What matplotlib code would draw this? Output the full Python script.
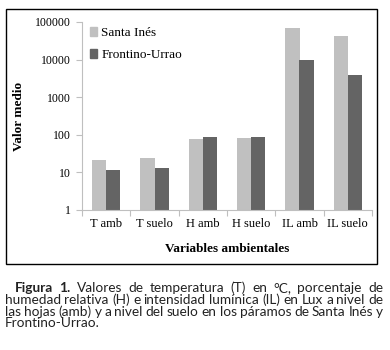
import matplotlib
matplotlib.use("Agg")
import matplotlib.pyplot as plt
import numpy as np
from matplotlib.patches import Patch, Rectangle

categories = ["T amb", "T suelo", "H amb", "H suelo", "IL amb", "IL suelo"]
santa_ines = [21, 23.5, 76, 81, 69000, 42500]
frontino_urrao = [11.8, 12.8, 86, 90, 9700, 4000]
series_names = ["Santa Inés", "Frontino-Urrao"]
y_ticks = [1, 10, 100, 1000, 10000, 100000]
caption_lines = [
    "Figura 1. Valores de temperatura (T) en °C, porcentaje de",
    "humedad relativa (H) e intensidad lumínica (IL) en Lux a nivel de",
    "las hojas (amb) y a nivel del suelo en los páramos de Santa Inés y",
    "Frontino-Urrao.",
]
n_bold = 2  # "Figura 1." in bold

light = "#c0c0c0"
dark = "#646464"
serif = "Liberation Serif"

W, H = 390, 350
fig = plt.figure(figsize=(W / 100, H / 100), dpi=100)
fig.patch.set_facecolor("white")

fig.add_artist(Rectangle((6 / W, 1 - 264 / H), (377 - 6) / W, (264 - 9) / H,
                         transform=fig.transFigure, fill=False, lw=1.0, ec="black"))

ax = fig.add_axes([82 / W, 1 - 210 / H, (372 - 82) / W, (210 - 22) / H])
x = np.arange(len(categories))
bw = 0.29
ax.bar(x - bw / 2, santa_ines, bw, color=light, label=series_names[0])
ax.bar(x + bw / 2, frontino_urrao, bw, color=dark, label=series_names[1])
ax.set_yscale("log")
ax.set_ylim(1, 100000)
ax.set_xlim(-0.5, len(categories) - 0.5)
ax.set_yticks(y_ticks)
ax.set_yticklabels([str(v) for v in y_ticks], fontfamily=serif, fontsize=8.5)
ax.yaxis.set_minor_locator(matplotlib.ticker.NullLocator())
ax.set_xticks(x)
ax.set_xticklabels(categories, fontfamily=serif, fontsize=9)
ax.set_xticks(np.arange(-0.5, len(categories)), minor=True)
ax.tick_params(axis="x", which="major", length=0, pad=6)
ax.tick_params(axis="x", which="minor", length=4, color="#bfbfbf", width=0.8)
ax.tick_params(axis="y", which="major", length=4, color="#bfbfbf", width=0.8, pad=4)
for s in ["top", "right"]:
    ax.spines[s].set_visible(False)
for s in ["left", "bottom"]:
    ax.spines[s].set_color("#bfbfbf")
    ax.spines[s].set_linewidth(0.8)

ax.set_xlabel("Variables ambientales", fontfamily=serif, fontsize=9.5,
              fontweight="bold", labelpad=9)
ax.set_ylabel("Valor medio", fontfamily=serif, fontsize=9.5, fontweight="bold",
              labelpad=7)

handles = [Patch(color=light), Patch(color=dark)]
ax.legend(handles, series_names, loc="upper left", bbox_to_anchor=(-0.015, 1.035),
          frameon=False, handlelength=0.6, handleheight=0.6, handletextpad=0.3,
          labelspacing=0.75, prop={"family": serif, "size": 9.5})

# caption, justified
cap_font = dict(family="Lato", size=9.8, color="#222222")
fig.canvas.draw()
renderer = fig.canvas.get_renderer()

def width_px(s, bold=False):
    t = fig.text(0, 0, s, fontweight="bold" if bold else "normal", **cap_font)
    w = t.get_window_extent(renderer).width
    t.remove()
    return w

space = width_px("a b") - width_px("ab")
left_x, right_x = 5, 383
line_ys = [288, 300, 311.5, 323]
for i, line in enumerate(caption_lines):
    words = line.split()
    bolds = [(i == 0 and k < n_bold) for k in range(len(words))]
    widths = [width_px(w, b) for w, b in zip(words, bolds)]
    st = 15 if i == 0 else left_x
    last = i == len(caption_lines) - 1
    gap = space if (last or len(words) < 2) else (right_x - st - sum(widths)) / (len(words) - 1)
    xx = st
    y = 1 - line_ys[i] / H
    for w, b, ww in zip(words, bolds, widths):
        fig.text(xx / W, y, w, fontweight="bold" if b else "normal",
                 va="center", ha="left", **cap_font)
        xx += ww + gap

fig.savefig("out.png", dpi=100)
